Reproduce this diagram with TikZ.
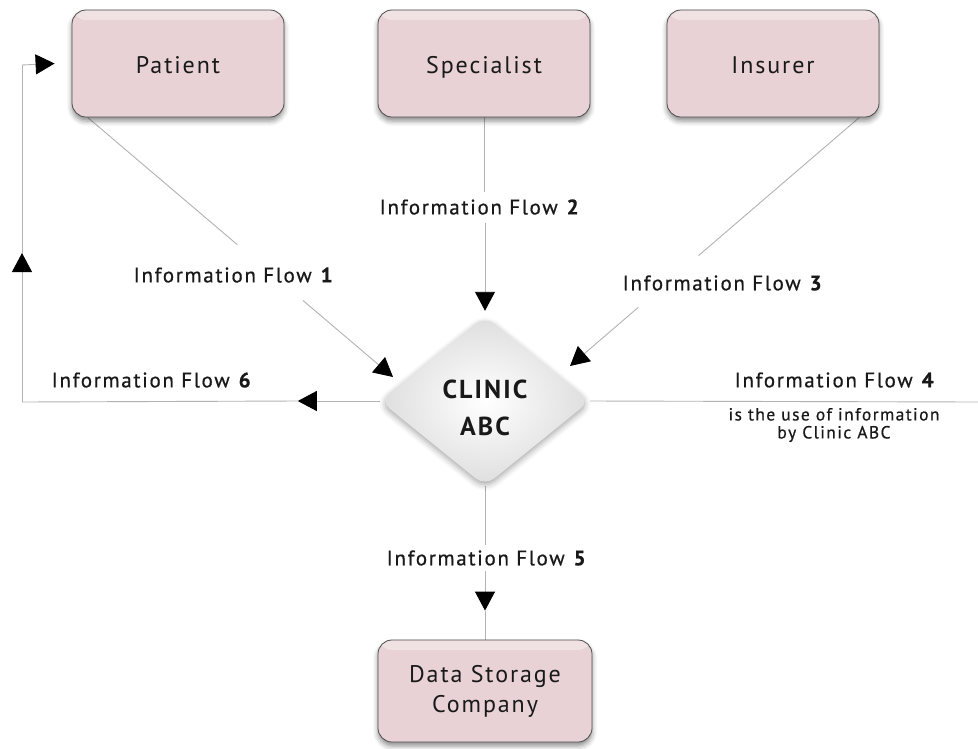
\documentclass[tikz,border=0pt]{standalone}
\usepackage{fontspec}
\setmainfont{PT Sans}[LetterSpace=8]
\newfontfamily\labelfont{PT Sans}[LetterSpace=8, FakeBold=0.6]
\usetikzlibrary{arrows.meta,shapes.geometric,shadows.blur,calc}

\definecolor{boxpink}{RGB}{232,210,213}
\definecolor{flowgrey}{RGB}{178,178,178}
\definecolor{inkdark}{RGB}{25,25,25}

\pgfdeclarelayer{bg}
\pgfsetlayers{bg,main}

\tikzset{
  party/.style={rounded corners=14pt, fill=boxpink, draw=black!70, line width=0.8pt,
    minimum width=212pt, minimum height=107pt, inner sep=0pt, align=center,
    font=\fontsize{24}{30}\selectfont, text=inkdark,
    blur shadow={shadow xshift=0pt, shadow yshift=-4pt, shadow blur radius=5pt, shadow opacity=45},
    path picture={\fill[white, opacity=0.35]
      (path picture bounding box.north west) rectangle ([yshift=-10pt]path picture bounding box.north east);}},
  oneline/.style={text height=21pt, text depth=1pt},
  hub/.style={diamond, minimum width=210pt, minimum height=170pt, inner sep=0pt,
    rounded corners=12pt, inner color=white, outer color=black!13,
    blur shadow={shadow xshift=0pt, shadow yshift=-3pt, shadow blur radius=6pt, shadow opacity=35}},
  hubtext/.style={align=center, inner sep=0pt,
    font=\bfseries\fontsize{26}{37}\selectfont, text=inkdark},
  flowlabel/.style={font=\labelfont\fontsize{21}{25}\selectfont, text=inkdark, inner sep=0pt},
  notelabel/.style={font=\labelfont\fontsize{17.5}{18}\selectfont, text=inkdark, inner sep=0pt, align=center},
  flowline/.style={draw=flowgrey, line width=0.9pt},
  flowtip/.style={flowline, -{Triangle[length=19pt,width=20pt,color=black,fill=black]}}
}

\begin{document}
\begin{tikzpicture}[x=1pt,y=-1pt]
\useasboundingbox (0,0) rectangle (978,748);

% parties and the clinic
\node[party, oneline] (patient)    at (178,63.5) {Patient};
\node[party, oneline] (specialist) at (484,63.5) {Specialist};
\node[party, oneline] (insurer)    at (773,63.5) {Insurer};
\node[hub] (clinic) at (485,401) {};
\node[hubtext] (clinicname) at ([yshift=-7pt]clinic.center) {CLINIC\\ABC};
\node[party, minimum width=214pt, minimum height=102pt] (storage) at (485,691) {Data Storage\\Company};

% flow labels
\node[flowlabel] (f1) at (234,275) {Information Flow \textbf{1}};
\node[flowlabel] (f2) at (480,207) {Information Flow \textbf{2}};
\node[flowlabel] (f3) at (723,283) {Information Flow \textbf{3}};
\node[flowlabel] (f4) at (835,380) {Information Flow \textbf{4}};
\node[notelabel] (f4note) at (834,425) {is the use of information\\by Clinic ABC};
\node[flowlabel] (f5) at (487,558) {Information Flow \textbf{5}};
\node[flowlabel] (f6) at (152,380) {Information Flow \textbf{6}};

% connector end points
\coordinate (p1) at ([xshift=16pt]patient.south west);
\coordinate (t1) at (393,377);
\coordinate (p3) at ([xshift=-20pt]insurer.south east);
\coordinate (t3) at (570,366);
\coordinate (t2) at ([yshift=5pt]clinic.north);
\coordinate (edge4) at (978,402);
\coordinate (t5) at ([yshift=29pt]storage.north);
\coordinate (t6a) at ([xshift=-82pt]clinic.west);
\coordinate (c6) at (22,402);
\coordinate (t6b) at (22,253);
\coordinate (c6t) at (22,65);
\coordinate (t6c) at ([xshift=-17pt]patient.west);

\begin{pgfonlayer}{bg}
  % flow 1: patient to clinic
  \draw[flowline] (p1) -- ($(p1)!0.49!(t1)$);
  \draw[flowtip] ($(p1)!0.705!(t1)$) -- (t1);
  % flow 2: specialist to clinic
  \draw[flowline, shorten >=7pt] (specialist.south) -- (specialist.south |- f2.north);
  \draw[flowtip, shorten <=8pt] (f2.south -| t2) -- (t2);
  % flow 3: insurer to clinic
  \draw[flowline] (p3) -- ($(p3)!0.556!(t3)$);
  \draw[flowtip] ($(p3)!0.764!(t3)$) -- (t3);
  % flow 4: use within the clinic
  \draw[flowline] (clinic.east) -- (edge4);
  % flow 5: clinic to data storage
  \draw[flowline, shorten >=5pt] (clinic.south) -- (clinic.south |- f5.north);
  \draw[flowtip, shorten <=5pt] (f5.south -| t5) -- (t5);
  \draw[flowline] (t5) -- (storage.north);
  % flow 6: clinic back to patient
  \draw[flowtip] (clinic.west) -- (t6a);
  \draw[flowline] (t6a) -- (c6);
  \draw[flowtip] (c6) -- (t6b);
  \draw[flowline] (t6b) -- (c6t);
  \draw[flowtip] (c6t) -- (t6c);
\end{pgfonlayer}
\end{tikzpicture}
\end{document}
